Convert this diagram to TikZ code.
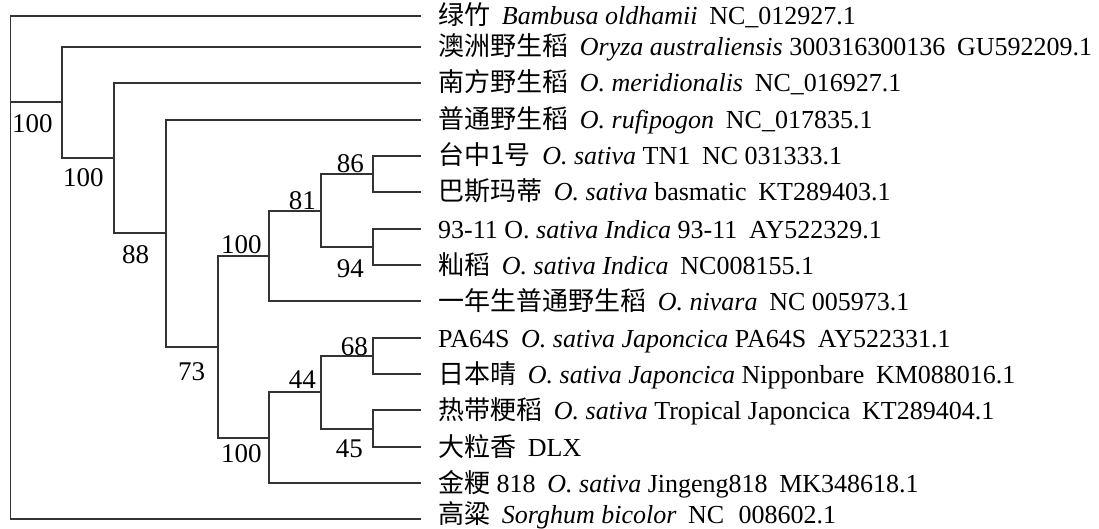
\documentclass[tikz,border=0pt]{standalone}
\usepackage{fontspec}
\setmainfont{Liberation Serif}
\newfontfamily\cjk{Noto Sans CJK SC}
\newcommand{\gp}{\hspace{0.45em}}
\begin{document}
\begin{tikzpicture}[x=1pt,y=-1pt,
  branch/.style={draw=black!80, line width=1.3pt},
  leaflabel/.style={anchor=base west, inner sep=0pt, font=\fontsize{26}{26}\selectfont},
  bootl/.style={anchor=base west, inner sep=0pt, font=\fontsize{27}{27}\selectfont},
  bootr/.style={anchor=base east, inner sep=0pt, font=\fontsize{27}{27}\selectfont}]
\useasboundingbox (0,0) rectangle (1099,529);
\fill[white] (0,0) rectangle (1099,529);
% leaf tips
\foreach \n/\yy in {1/16,2/47,3/83,4/120,5/156,6/192,7/229,8/265,9/301,10/338,11/374,12/410,13/447,14/483,15/519}
  \coordinate (l\n) at (421,\yy);
% internal nodes
\coordinate (R) at (10.5,102);
\coordinate (B) at (62,102);
\coordinate (C) at (114,158);
\coordinate (D) at (166,233);
\coordinate (E) at (218,347);
\coordinate (F) at (269,256);
\coordinate (G) at (321,211);
\coordinate (H) at (373,174);
\coordinate (I) at (373,247);
\coordinate (J) at (269,438);
\coordinate (K) at (321,392);
\coordinate (L) at (373,356);
\coordinate (M) at (373,429);
% branches
\draw[branch] (R) |- (l1);
\draw[branch] (R) |- (l15);
\draw[branch] (R) -- (B);
\draw[branch] (B) |- (l2);
\draw[branch] (B) |- (C);
\draw[branch] (C) |- (l3);
\draw[branch] (C) |- (D);
\draw[branch] (D) |- (l4);
\draw[branch] (D) |- (E);
\draw[branch] (E) |- (F);
\draw[branch] (E) |- (J);
\draw[branch] (F) |- (G);
\draw[branch] (F) |- (l9);
\draw[branch] (G) |- (H);
\draw[branch] (G) |- (I);
\draw[branch] (H) |- (l5);
\draw[branch] (H) |- (l6);
\draw[branch] (I) |- (l7);
\draw[branch] (I) |- (l8);
\draw[branch] (J) |- (K);
\draw[branch] (J) |- (l14);
\draw[branch] (K) |- (L);
\draw[branch] (K) |- (M);
\draw[branch] (L) |- (l10);
\draw[branch] (L) |- (l11);
\draw[branch] (M) |- (l12);
\draw[branch] (M) |- (l13);
% bootstrap values
\node[bootl] (bR) at (12,133) {100};
\node[bootl] (bB) at (63,187) {100};
\node[bootl] (bC) at (122,263) {88};
\node[bootr] (bH) at (364,173) {86};
\node[bootr] (bG) at (316,210) {81};
\node[bootl] (bF) at (221,253) {100};
\node[bootr] (bI) at (364,277) {94};
\node[bootl] (bD) at (178,380) {73};
\node[bootr] (bL) at (368,355) {68};
\node[bootr] (bK) at (316,388) {44};
\node[bootl] (bJ) at (221,462) {100};
\node[bootr] (bM) at (363,457) {45};
% leaf labels
\node[leaflabel] (t1) at (438,25) {{\cjk 绿竹}\gp\textit{Bambusa oldhamii}\gp NC\_012927.1};
\node[leaflabel] (t2) at (438,56) {{\cjk 澳洲野生稻}\gp\textit{Oryza australiensis} 300316300136\gp GU592209.1};
\node[leaflabel] (t3) at (438,92) {{\cjk 南方野生稻}\gp\textit{O. meridionalis}\gp NC\_016927.1};
\node[leaflabel] (t4) at (438,129) {{\cjk 普通野生稻}\gp\textit{O. rufipogon}\gp NC\_017835.1};
\node[leaflabel] (t5) at (438,165) {{\cjk 台中1号}\gp\textit{O. sativa} TN1\gp NC 031333.1};
\node[leaflabel] (t6) at (438,201) {{\cjk 巴斯玛蒂}\gp\textit{O. sativa} basmatic\gp KT289403.1};
\node[leaflabel] (t7) at (438,238) {93-11 O. \textit{sativa Indica} 93-11\gp AY522329.1};
\node[leaflabel] (t8) at (438,274) {{\cjk 籼稻}\gp\textit{O. sativa Indica}\gp NC008155.1};
\node[leaflabel] (t9) at (438,310) {{\cjk 一年生普通野生稻}\gp\textit{O. nivara}\gp NC 005973.1};
\node[leaflabel] (t10) at (438,347) {PA64S\gp\textit{O. sativa Japoncica} PA64S\gp AY522331.1};
\node[leaflabel] (t11) at (438,383) {{\cjk 日本晴}\gp\textit{O. sativa Japoncica} Nipponbare\gp KM088016.1};
\node[leaflabel] (t12) at (438,419) {{\cjk 热带粳稻}\gp\textit{O. sativa} Tropical Japoncica\gp KT289404.1};
\node[leaflabel] (t13) at (438,456) {{\cjk 大粒香}\gp DLX};
\node[leaflabel] (t14) at (438,492) {{\cjk 金粳} 818\gp\textit{O. sativa} Jingeng818\gp MK348618.1};
\node[leaflabel] (t15) at (438,523) {{\cjk 高粱}\gp\textit{Sorghum bicolor}\gp NC\hspace{0.55em}008602.1};
\end{tikzpicture}
\end{document}
